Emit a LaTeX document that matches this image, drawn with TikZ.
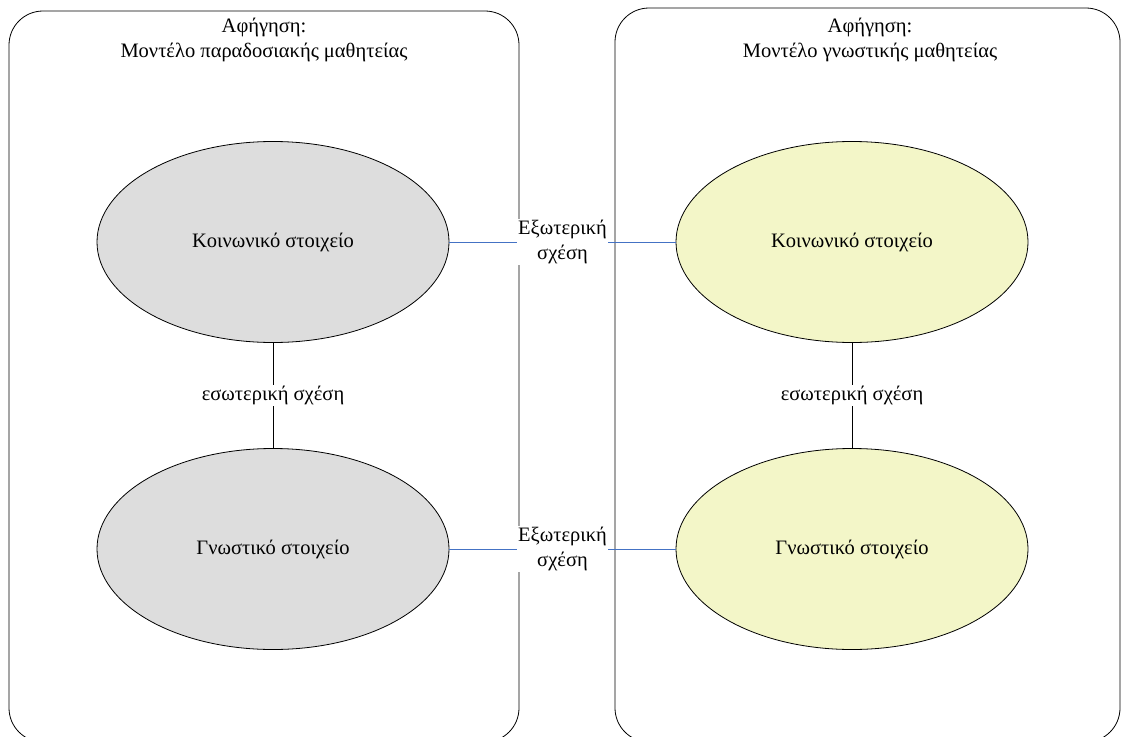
\documentclass[tikz,border=0pt]{standalone}
\usepackage{fontspec}
\setmainfont{Liberation Serif}
\usetikzlibrary{shapes.geometric}
\definecolor{greyfill}{RGB}{221,221,221}
\definecolor{yellowfill}{RGB}{243,246,200}
\definecolor{linkblue}{RGB}{68,114,196}
\begin{document}
\begin{tikzpicture}[x=1pt,y=-1pt,
  panel/.style={draw=black,line width=0.8pt,rounded corners=34pt,fill=white},
  element/.style={ellipse,draw=black,line width=0.8pt,minimum width=352pt,minimum height=201pt,inner sep=0pt},
  greyelem/.style={element,fill=greyfill},
  yellowelem/.style={element,fill=yellowfill},
  lbl/.style={font=\fontsize{20.5}{25.5}\selectfont,align=center},
  innerlink/.style={draw=black,line width=0.9pt},
  outerlink/.style={draw=linkblue,line width=0.9pt},
  linklbl/.style={lbl,fill=white,inner sep=1pt}]
\useasboundingbox (0,0) rectangle (1121,736);
\clip (0,0) rectangle (1121,736);

% two panels
\draw[panel] (9,11) rectangle (519,742);
\draw[panel] (615,8) rectangle (1120,742);

% panel titles
\node[lbl] (ltitle) at (264,40) {Αφήγηση:\\Μοντέλο παραδοσιακής μαθητείας};
\node[lbl] (rtitle) at (870,40) {Αφήγηση:\\Μοντέλο γνωστικής μαθητείας};

% elements
\node[greyelem] (lsoc) at (273,242) {};
\node[greyelem] (lcog) at (273,549) {};
\node[yellowelem] (rsoc) at (852,242) {};
\node[yellowelem] (rcog) at (852,549) {};
\node[lbl] (lsoct) at (lsoc.center) {Κοινωνικό στοιχείο};
\node[lbl] (lcogt) at (lcog.center) {Γνωστικό στοιχείο};
\node[lbl] (rsoct) at (rsoc.center) {Κοινωνικό στοιχείο};
\node[lbl] (rcogt) at (rcog.center) {Γνωστικό στοιχείο};

% inner relations
\draw[innerlink] (lsoc.south) -- node[linklbl] (lin) {εσωτερική σχέση} (lcog.north);
\draw[innerlink] (rsoc.south) -- node[linklbl] (rin) {εσωτερική σχέση} (rcog.north);

% outer relations
\draw[outerlink] (lsoc.east) -- node[linklbl,pos=0.5] (ext1) {Εξωτερική\\σχέση} (rsoc.west);
\draw[outerlink] (lcog.east) -- node[linklbl,pos=0.5] (ext2) {Εξωτερική\\σχέση} (rcog.west);
\end{tikzpicture}
\end{document}
